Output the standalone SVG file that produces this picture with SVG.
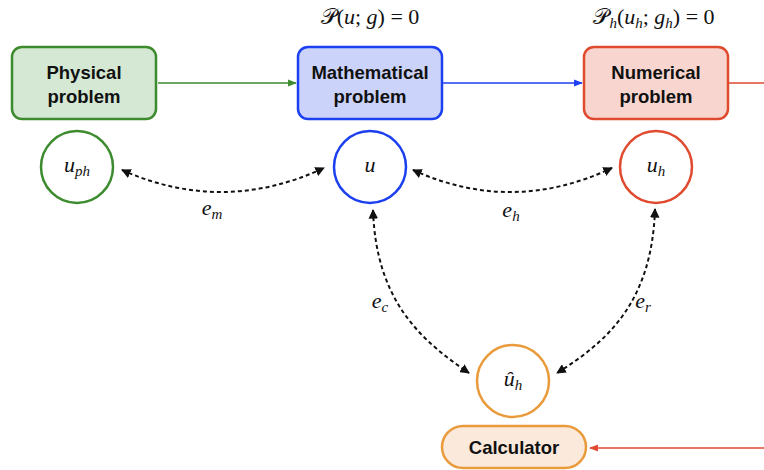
<svg xmlns="http://www.w3.org/2000/svg" width="764" height="470" viewBox="0 0 764 470">
<style>
.lbl{font-family:"Liberation Sans",Arial,sans-serif;font-weight:bold;font-size:18.5px;fill:#111;text-anchor:middle}
.m{font-family:"Liberation Serif","DejaVu Serif",serif;font-size:22px;fill:#111}
.i{font-style:italic}
.sub{font-size:15px;font-style:italic}
.cal{font-family:"DejaVu Serif","DejaVu Sans",serif;font-style:normal}
.dash{fill:none;stroke:#111;stroke-width:2;stroke-dasharray:4 3}
.sol{fill:none;stroke-width:1.6}
</style>
<defs>
<marker id="ak" viewBox="0 0 10 10" refX="9" refY="5" markerWidth="4.8" markerHeight="4.8" orient="auto-start-reverse"><path d="M0,0 L10,5 L0,10 z" fill="#111"/></marker>
<marker id="ag" viewBox="0 0 10 10" refX="9" refY="5" markerWidth="5.5" markerHeight="5.5" orient="auto"><path d="M0,1 L10,5 L0,9 z" fill="#3d8b2f"/></marker>
<marker id="ab" viewBox="0 0 10 10" refX="9" refY="5" markerWidth="5.5" markerHeight="5.5" orient="auto"><path d="M0,1 L10,5 L0,9 z" fill="#1c3ff0"/></marker>
<marker id="ar" viewBox="0 0 10 10" refX="9" refY="5" markerWidth="5.5" markerHeight="5.5" orient="auto"><path d="M0,1 L10,5 L0,9 z" fill="#e04a2f"/></marker>
</defs>

<g id="formulas">
<text class="m" x="370" y="24" text-anchor="middle"><tspan class="cal">𝒫</tspan>(<tspan class="i">u</tspan>; <tspan class="i">g</tspan>) = 0</text>
<text class="m" x="654" y="24" text-anchor="middle"><tspan class="cal">𝒫</tspan><tspan class="sub" dy="4">h</tspan><tspan dy="-4">(</tspan><tspan class="i">u</tspan><tspan class="sub" dy="4">h</tspan><tspan dy="-4">; </tspan><tspan class="i">g</tspan><tspan class="sub" dy="4">h</tspan><tspan dy="-4">) = 0</tspan></text>
</g>

<g id="physical">
<rect x="12" y="47" width="144" height="72" rx="10" fill="#d5e8d4" stroke="#3d8b2f" stroke-width="2.5"/>
<text class="lbl" x="84" y="79">Physical</text>
<text class="lbl" x="84" y="103">problem</text>
</g>
<g id="mathematical">
<rect x="298" y="47" width="144" height="72" rx="10" fill="#ccd3fa" stroke="#1c3ff0" stroke-width="2.5"/>
<text class="lbl" x="370" y="79">Mathematical</text>
<text class="lbl" x="370" y="103">problem</text>
</g>
<g id="numerical">
<rect x="584" y="47" width="144" height="72" rx="10" fill="#f8d6cf" stroke="#e04a2f" stroke-width="2.5"/>
<text class="lbl" x="656" y="79">Numerical</text>
<text class="lbl" x="656" y="103">problem</text>
</g>
<g id="calculator">
<rect x="442" y="426" width="144" height="42" rx="21" fill="#fbe9dc" stroke="#e99a3a" stroke-width="2.5"/>
<text class="lbl" x="514" y="454">Calculator</text>
</g>

<g id="u_ph">
<circle cx="77" cy="167" r="36" fill="#fff" stroke="#3d8b2f" stroke-width="2.5"/>
<text class="m" x="77" y="172" text-anchor="middle"><tspan class="i">u</tspan><tspan class="sub" dy="4">ph</tspan></text>
</g>
<g id="u">
<circle cx="370" cy="167" r="36" fill="#fff" stroke="#1c3ff0" stroke-width="2.5"/>
<text class="m i" x="370" y="172" text-anchor="middle">u</text>
</g>
<g id="u_h">
<circle cx="656" cy="167" r="36" fill="#fff" stroke="#e04a2f" stroke-width="2.5"/>
<text class="m" x="656" y="172" text-anchor="middle"><tspan class="i">u</tspan><tspan class="sub" dy="4">h</tspan></text>
</g>
<g id="u_hat">
<circle cx="513" cy="381" r="36" fill="#fff" stroke="#e99a3a" stroke-width="2.5"/>
<text class="m" x="513" y="386" text-anchor="middle"><tspan class="i">û</tspan><tspan class="sub" dy="4">h</tspan></text>
</g>

<g id="connectors">
<path class="sol" stroke="#3d8b2f" d="M158,83 H296" marker-end="url(#ag)"/>
<path class="sol" stroke="#1c3ff0" d="M443,83 H582" marker-end="url(#ab)"/>
<path class="sol" stroke="#e04a2f" d="M729,83 H790 V448 H590" marker-end="url(#ar)"/>
<path class="dash" d="M122,170 Q223,215 324,168" marker-start="url(#ak)" marker-end="url(#ak)"/>
<path class="dash" d="M413,170 Q512,215 612,168" marker-start="url(#ak)" marker-end="url(#ak)"/>
<path class="dash" d="M373,210 C376,300 420,340 469,373" marker-start="url(#ak)" marker-end="url(#ak)"/>
<path class="dash" d="M655,209 C652,300 610,340 557,373" marker-start="url(#ak)" marker-end="url(#ak)"/>
</g>

<g id="edge-labels">
<text class="m" x="212" y="215" text-anchor="middle"><tspan class="i">e</tspan><tspan class="sub" dy="4">m</tspan></text>
<text class="m" x="511" y="217" text-anchor="middle"><tspan class="i">e</tspan><tspan class="sub" dy="4">h</tspan></text>
<text class="m" x="380" y="308" text-anchor="middle"><tspan class="i">e</tspan><tspan class="sub" dy="4">c</tspan></text>
<text class="m" x="643" y="308" text-anchor="middle"><tspan class="i">e</tspan><tspan class="sub" dy="4">r</tspan></text>
</g>
</svg>
